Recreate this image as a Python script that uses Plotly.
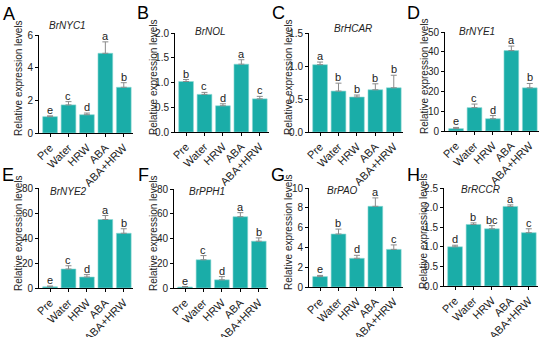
import plotly.graph_objects as go

W, H = 550, 337

categories = ["Pre", "Water", "HRW", "ABA", "ABA+HRW"]

genes = ["BrNYC1", "BrNOL", "BrHCAR", "BrNYE1", "BrNYE2", "BrPPH1", "BrPAO", "BrRCCR"]
panel_letters = ["A", "B", "C", "D", "E", "F", "G", "H"]

nyc1_mean = [1.0, 1.72, 1.12, 4.88, 2.8]
nyc1_sd = [0.05, 0.2, 0.1, 0.7, 0.28]
nol_mean = [1.02, 0.76, 0.53, 1.37, 0.67]
nol_sd = [0.04, 0.04, 0.04, 0.09, 0.05]
hcar_mean = [1.02, 0.62, 0.53, 0.64, 0.67]
hcar_sd = [0.04, 0.12, 0.03, 0.09, 0.19]
nye1_mean = [1.2, 11.8, 6.2, 40.6, 21.8]
nye1_sd = [0.6, 1.8, 1.6, 2.3, 2.2]
nye2_mean = [1.0, 15.2, 8.8, 54.8, 43.8]
nye2_sd = [0.6, 2.6, 1.9, 3.2, 3.6]
pph1_mean = [0.8, 22.8, 6.6, 57.6, 37.8]
pph1_sd = [0.4, 3.4, 2.6, 3.3, 2.7]
pao_mean = [1.05, 5.35, 2.9, 8.15, 3.8]
pao_sd = [0.12, 0.5, 0.3, 0.85, 0.45]
rccr_mean = [1.0, 1.57, 1.46, 2.03, 1.36]
rccr_sd = [0.04, 0.04, 0.08, 0.04, 0.1]

nyc1_letters = ["e", "c", "d", "a", "b"]
nol_letters = ["b", "c", "d", "a", "c"]
hcar_letters = ["a", "b", "b", "b", "b"]
nye1_letters = ["e", "c", "d", "a", "b"]
nye2_letters = ["e", "c", "d", "a", "b"]
pph1_letters = ["e", "c", "d", "a", "b"]
pao_letters = ["e", "b", "d", "a", "c"]
rccr_letters = ["d", "b", "bc", "a", "c"]

means = [nyc1_mean, nol_mean, hcar_mean, nye1_mean, nye2_mean, pph1_mean, pao_mean, rccr_mean]
sds = [nyc1_sd, nol_sd, hcar_sd, nye1_sd, nye2_sd, pph1_sd, pao_sd, rccr_sd]
letters = [nyc1_letters, nol_letters, hcar_letters, nye1_letters,
           nye2_letters, pph1_letters, pao_letters, rccr_letters]

y_max = [6, 2.0, 1.5, 50, 80, 80, 10, 2.5]
y_dtick = [2, 0.5, 0.5, 10, 20, 20, 2, 0.5]
y_fmt = ["d", ".1f", ".1f", "d", "d", "d", "d", ".1f"]

# pixel layout: (x_left, x_right, y_top, y_bottom)
boxes = [
    (39, 133, 35, 133), (175, 269, 33, 132), (309, 403, 33, 132), (445, 539, 32, 131),
    (39, 133, 188, 288), (174, 268, 189, 288), (309, 403, 188, 287), (444, 538, 188, 286),
]
title_pos = [(67, 25), (210, 32), (353, 29), (477, 32), (68, 191), (207, 191), (342, 190), (480, 189)]
letter_pos = [(9, 14), (143, 13), (278, 13), (413, 13), (8, 175), (143, 175), (278, 175), (413, 175)]
ytitle_pos = [(18, 78), (153, 77), (288, 77), (424, 76), (18, 233), (153, 233), (288, 232), (423, 231)]

BAR = "#1aada8"
FONT = "Liberation Sans, Arial, sans-serif"

fig = go.Figure()
layout = dict(
    width=W, height=H, margin=dict(l=0, r=0, t=0, b=0, autoexpand=False),
    paper_bgcolor="white", plot_bgcolor="white", showlegend=False,
    font=dict(family=FONT, color="#222"),
)
annotations = []

def px(x):
    return x / W

def py(y):
    return 1 - y / H

for i in range(8):
    n = "" if i == 0 else str(i + 1)
    xl, xr, yt, yb = boxes[i]
    fig.add_trace(go.Bar(
        x=categories, y=means[i], xaxis="x" + n, yaxis="y" + n,
        width=0.8,
        marker=dict(color=BAR, line=dict(color="#8fd8d4", width=0.6)),
        error_y=dict(type="data", array=sds[i], arrayminus=[0] * 5, symmetric=False,
                     color="#8a8a8a", thickness=1, width=3),
    ))
    layout["xaxis" + n] = dict(
        domain=[px(xl), px(xr)], anchor="y" + n, range=[-0.6, 4.5],
        showline=True, linecolor="black", linewidth=1, ticks="outside", ticklen=3,
        tickcolor="black", tickangle=-45, tickfont=dict(size=11, color="#222"),
        showgrid=False, zeroline=False, fixedrange=True, automargin=False,
    )
    layout["yaxis" + n] = dict(
        domain=[py(yb), py(yt)], anchor="x" + n, range=[0, y_max[i]],
        dtick=y_dtick[i], tickformat=y_fmt[i],
        showline=True, linecolor="black", linewidth=1, ticks="outside", ticklen=3,
        tickcolor="black", tickfont=dict(size=10, color="#222"),
        showgrid=False, zeroline=False, fixedrange=True, automargin=False,
    )
    for j, c in enumerate(categories):
        annotations.append(dict(
            x=c, y=means[i][j] + sds[i][j], xref="x" + n, yref="y" + n,
            text=letters[i][j], showarrow=False, xanchor="center", yanchor="bottom", yshift=-2,
            font=dict(size=11, color="#222"),
        ))
    tx, ty = title_pos[i]
    annotations.append(dict(x=px(tx), y=py(ty), xref="paper", yref="paper",
                            xanchor="center", yanchor="middle",
                            text="<i>" + genes[i] + "</i>", showarrow=False,
                            font=dict(size=10, color="#222")))
    lx, ly = letter_pos[i]
    annotations.append(dict(x=px(lx), y=py(ly), xref="paper", yref="paper",
                            xanchor="center", yanchor="middle",
                            text=panel_letters[i], showarrow=False,
                            font=dict(size=18, color="black")))
    yx, yy = ytitle_pos[i]
    annotations.append(dict(x=px(yx), y=py(yy), xref="paper", yref="paper",
                            xanchor="center", yanchor="middle",
                            text="Relative expression levels", showarrow=False, textangle=-90,
                            font=dict(size=10, color="#222")))

layout["annotations"] = annotations
fig.update_layout(**layout)
fig.write_html("out.html", config={"displayModeBar": False},
               post_script="document.body.style.margin='0px';")
